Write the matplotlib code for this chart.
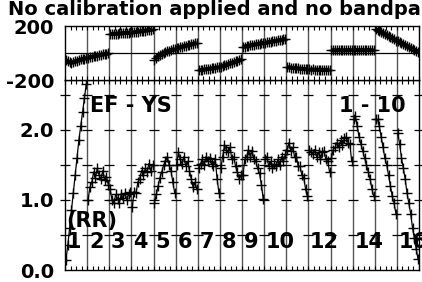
import matplotlib
matplotlib.use("Agg")
import matplotlib.pyplot as plt
import numpy as np

plt.rcParams['font.family'] = ['DejaVu Sans']
plt.rcParams['font.weight'] = 'bold'

title = "No calibration applied and no bandpass applied"
baseline_label = "EF - YS"
timerange_label = "1 - 10"
pol_label = "(RR)"
if_labels = ['1', '2', '3', '4', '5', '6', '7', '8', '9', '10', '', '12', '', '14', '', '16']
n_chan = 12

# Amplitude per IF (12 channels each)
amplitude = [
    [0.14, 0.35, 0.60, 0.85, 1.10, 1.35, 1.60, 1.85, 2.05, 2.25, 2.45, 2.65],
    [1.00, 1.18, 1.25, 1.40, 1.32, 1.45, 1.35, 1.30, 1.42, 1.28, 1.33, 1.22],
    [1.15, 1.00, 0.95, 1.08, 1.02, 0.96, 1.08, 1.03, 1.10, 1.00, 1.08, 1.12],
    [0.90, 1.12, 1.10, 1.25, 1.30, 1.42, 1.35, 1.45, 1.40, 1.52, 1.42, 1.50],
    [0.95, 1.08, 1.20, 1.32, 1.40, 1.50, 1.55, 1.62, 1.50, 1.42, 1.25, 1.10],
    [1.50, 1.68, 1.58, 1.52, 1.62, 1.48, 1.55, 1.42, 1.30, 1.18, 1.25, 1.15],
    [1.45, 1.52, 1.58, 1.50, 1.62, 1.55, 1.60, 1.52, 1.48, 1.58, 1.30, 1.10],
    [1.45, 1.62, 1.78, 1.72, 1.68, 1.75, 1.58, 1.62, 1.48, 1.40, 1.30, 1.35],
    [1.35, 1.58, 1.62, 1.72, 1.62, 1.70, 1.58, 1.55, 1.45, 1.38, 1.22, 1.02],
    [1.58, 1.62, 1.48, 1.55, 1.45, 1.52, 1.48, 1.58, 1.50, 1.62, 1.55, 1.65],
    [1.72, 1.82, 1.70, 1.75, 1.62, 1.62, 1.48, 1.48, 1.35, 1.32, 1.15, 1.05],
    [1.72, 1.68, 1.65, 1.72, 1.62, 1.68, 1.58, 1.68, 1.70, 1.58, 1.55, 1.40],
    [1.60, 1.72, 1.75, 1.82, 1.76, 1.85, 1.78, 1.88, 1.90, 1.82, 1.80, 1.55],
    [2.15, 2.20, 2.05, 1.90, 1.80, 1.70, 1.60, 1.50, 1.40, 1.30, 1.15, 1.05],
    [2.15, 2.15, 2.05, 1.90, 1.75, 1.60, 1.50, 1.35, 1.20, 1.05, 0.95, 0.80],
    [1.95, 1.80, 1.60, 1.45, 1.30, 1.10, 0.95, 0.80, 0.60, 0.45, 0.30, 0.15],
]

# Phase (degrees) per IF (12 channels each)
phase = [
    [-52, -62, -70, -71, -68, -62, -57, -52, -48, -44, -41, -38],
    [-34, -31, -28, -25, -22, -19, -16, -13, -10, -8, -5, -3],
    [140, 141, 142, 143, 144, 145, 146, 147, 148, 149, 150, 152],
    [152, 154, 156, 158, 160, 162, 164, 166, 168, 170, 172, 175],
    [-49, -35, -22, -12, -5, 2, 8, 13, 18, 22, 26, 29],
    [35, 39, 43, 47, 51, 55, 58, 62, 65, 68, 72, 75],
    [-128, -126, -124, -122, -120, -118, -116, -114, -112, -110, -107, -105],
    [-100, -95, -91, -86, -81, -76, -72, -67, -62, -58, -53, -48],
    [45, 48, 51, 54, 57, 60, 62, 65, 67, 70, 72, 75],
    [76, 78, 81, 83, 86, 88, 91, 93, 96, 98, 101, 103],
    [-105, -107, -108, -110, -111, -113, -114, -116, -117, -119, -120, -122],
    [-122, -123, -122, -124, -123, -125, -124, -125, -126, -125, -126, -126],
    [20, 21, 19, 20, 22, 20, 21, 19, 21, 20, 22, 21],
    [20, 22, 21, 20, 21, 22, 20, 21, 22, 21, 20, 22],
    [175, 168, 161, 154, 147, 140, 132, 125, 118, 110, 101, 92],
    [90, 82, 74, 66, 58, 50, 43, 36, 28, 20, 12, 5],
]

n_if = len(amplitude)
W, H = 422, 282
fig = plt.figure(figsize=(W / 100, H / 100), dpi=100)

x0, x1 = 65 / W, 419 / W
ax_amp = fig.add_axes([x0, 1 - 270 / H, x1 - x0, (270 - 80) / H])
ax_ph = fig.add_axes([x0, 1 - 80 / H, x1 - x0, (80 - 26) / H])

amp_kw = dict(color='black', lw=0.9, marker='+', ms=7.5, mew=1.0)
ph_kw = dict(color='black', lw=3.0, marker='+', ms=7, mew=1.0, solid_capstyle='butt')
for i in range(n_if):
    xs = i + (np.arange(n_chan) + 0.5) / n_chan
    ax_amp.plot(xs, amplitude[i], zorder=3, **amp_kw)
    ax_ph.plot(xs, phase[i], zorder=3, **ph_kw)

bounds = np.arange(0, n_if + 1)
for ax in (ax_amp, ax_ph):
    ax.set_xlim(0, n_if)
    for b in bounds[1:-1]:
        ax.axvline(b, color='#555555', lw=1.0, zorder=1)
    ax.set_xticks(bounds)
    ax.set_xticks(np.arange(0, n_if, 0.25), minor=True)
    ax.tick_params(axis='x', which='both', direction='in', top=True, bottom=True,
                   labelbottom=False, length=3, width=0.8)
    ax.tick_params(axis='y', length=0, labelsize=14, pad=8)
    for s in ax.spines.values():
        s.set_linewidth(1.0)
        s.set_color('black')

ax_amp.set_ylim(0, 2.714)
ax_amp.set_yticks([0, 1, 2])
ax_amp.set_yticklabels(['0.0', '1.0', '2.0'], fontweight='bold', fontsize=14)
# small horizontal tick dashes at each IF boundary
for b in bounds:
    ax_amp.plot([b] * 5, [0.5, 1.0, 1.5, 2.0, 2.5], ls='none', marker='_', ms=7,
                mew=0.9, color='black', clip_on=False, zorder=2)

ax_ph.set_ylim(-200, 200)
ax_ph.set_yticks([-200, 200])
ax_ph.set_yticklabels(['-200', '200'], fontweight='bold', fontsize=14)
ax_ph.axhline(0, color='black', lw=0.9, zorder=1)

# labels
ax_amp.text(1.14, 2.26, baseline_label, fontsize=15, fontweight='bold', va='baseline', ha='left', zorder=5)
ax_amp.text(12.4, 2.26, timerange_label, fontsize=15, fontweight='bold', va='baseline', ha='left', zorder=5)
ax_amp.text(0.05, 0.61, pol_label, fontsize=15, fontweight='bold', va='baseline', ha='left', zorder=5)
for i, lab in enumerate(if_labels):
    if lab:
        ax_amp.text(i + 0.08, 0.31, lab, fontsize=15, fontweight='bold', va='baseline',
                    ha='left', zorder=5, clip_on=False)

fig.text(8 / W, 1 - 15 / H, title, fontsize=14, fontweight='bold', va='baseline', ha='left')

fig.savefig('out.png', dpi=100)
